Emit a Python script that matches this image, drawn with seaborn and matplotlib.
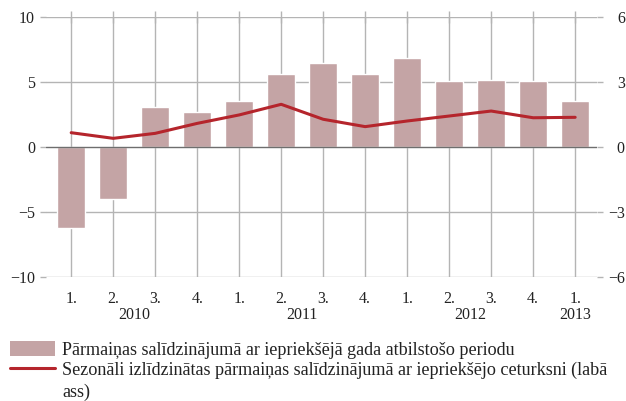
import matplotlib.pyplot as plt
import matplotlib.transforms as mtransforms
from matplotlib.patches import Patch
from matplotlib.lines import Line2D
import numpy as np
import pandas as pd
import seaborn as sns

# quarters 2010 Q1 .. 2013 Q1
quarter_labels = ["1.", "2.", "3.", "4.", "1.", "2.", "3.", "4.", "1.", "2.", "3.", "4.", "1."]
years = ["2010", "2011", "2012", "2013"]
year_pos = [1.5, 5.5, 9.5, 12]
yoy_change = [-6.2, -4.0, 3.05, 2.7, 3.55, 5.6, 6.45, 5.6, 6.85, 5.1, 5.15, 5.05, 3.55]
qoq_sa_change = [0.66, 0.40, 0.63, 1.09, 1.48, 1.97, 1.28, 0.94, 1.2, 1.43, 1.66, 1.35, 1.37]

BAR = "#c4a4a5"
LINE = "#b5252c"
GRID = "#b4b4b4"
TXT = "#222222"
TICK_FS = 11.5
LEG_FS = 13.1

sns.set_theme(style="white")
plt.rcParams["font.family"] = ["Liberation Serif", "DejaVu Serif"]

df = pd.DataFrame({
    "pos": np.arange(len(quarter_labels)),
    "yoy": yoy_change,
    "qoq": qoq_sa_change,
})

fig = plt.figure(figsize=(6.26, 4.01), dpi=100)
ax = fig.add_axes([46 / 626, 1 - 277 / 401, 551 / 626, 260 / 401])

sns.barplot(data=df, x="pos", y="yoy", color=BAR, width=0.66, saturation=1,
            ax=ax, zorder=2)
ax.set_xlim(-0.6, 12.52)
ax.set_ylim(-10, 10)
ax.set_yticks([-10, -5, 0, 5, 10])
ax.set_yticklabels(["\u221210", "\u22125", "0", "5", "10"])
ax.set_xticks(df["pos"])
ax.set_xticklabels(quarter_labels)
ax.set_xlabel("")
ax.set_ylabel("")
for s in ax.spines.values():
    s.set_visible(False)

# grid lines drawn by hand so they sit behind bars
for y in [-10, -5, 5, 10]:
    ax.axhline(y, color=GRID, lw=1, zorder=0)
for x in df["pos"]:
    ax.axvline(x, color=GRID, lw=1, zorder=0)
ax.axhline(0, color="#6e6e6e", lw=1, zorder=3)

ax.tick_params(axis="both", which="both", width=1, color=GRID, labelsize=TICK_FS)
ax.tick_params(axis="x", direction="inout", length=8, pad=6, top=True, labeltop=False)
ax.tick_params(axis="y", direction="out", length=4, pad=4)
for lab in ax.get_xticklabels() + ax.get_yticklabels():
    lab.set_color(TXT)

trans = mtransforms.blended_transform_factory(ax.transData, ax.transAxes)
for yr, xp in zip(years, year_pos):
    ax.text(xp, -0.148, yr, transform=trans, ha="center", va="center",
            fontsize=TICK_FS, color=TXT)

ax2 = ax.twinx()
sns.lineplot(data=df, x="pos", y="qoq", color=LINE, lw=2.2, ax=ax2, zorder=4)
ax2.set_ylim(-6, 6)
ax2.set_yticks([-6, -3, 0, 3, 6])
ax2.set_yticklabels(["\u22126", "\u22123", "0", "3", "6"])
ax2.set_ylabel("")
ax2.set_xlim(-0.6, 12.52)
for s in ax2.spines.values():
    s.set_visible(False)
ax2.tick_params(axis="y", direction="out", length=4, width=1, color=GRID,
                pad=16, labelsize=TICK_FS)
for lab in ax2.get_yticklabels():
    lab.set_horizontalalignment("right")
    lab.set_color(TXT)

handles = [Patch(facecolor=BAR, edgecolor="none"),
           Line2D([0], [0], color=LINE, lw=2.2)]
labels = ["P\u0101rmai\u0146as sal\u012bdzin\u0101jum\u0101 ar iepriek\u0161\u0113j\u0101 gada atbilsto\u0161o periodu",
          "Sezon\u0101li izl\u012bdzin\u0101tas p\u0101rmai\u0146as sal\u012bdzin\u0101jum\u0101 ar iepriek\u0161\u0113jo ceturksni (lab\u0101"]
leg = fig.legend(handles, labels, loc="upper left", bbox_to_anchor=(10 / 626, 1 - 341 / 401),
                 frameon=False, fontsize=LEG_FS, handlelength=2.5, handleheight=0.85,
                 handletextpad=0.35, labelspacing=0.15, borderaxespad=0, borderpad=0)
for t in leg.get_texts():
    t.set_color(TXT)
fig.text(62 / 626, 1 - 392 / 401, "ass)", ha="left", va="center", fontsize=LEG_FS,
         color=TXT)

fig.savefig("out.png", dpi=100)
